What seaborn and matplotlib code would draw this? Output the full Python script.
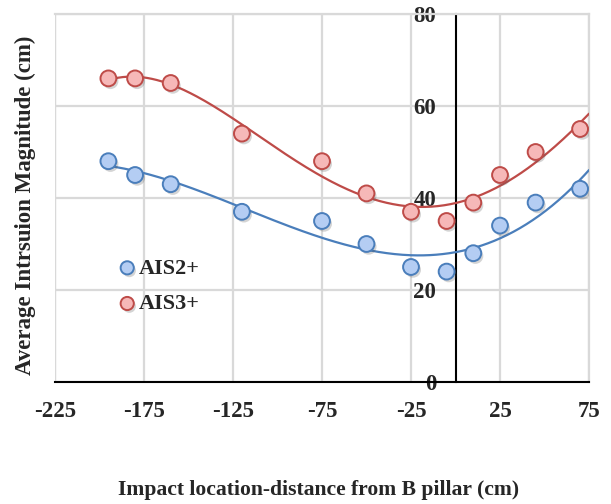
import numpy as np
import pandas as pd
import matplotlib
matplotlib.use("Agg")
import matplotlib.pyplot as plt
import matplotlib.patheffects as pe
import seaborn as sns

# Impact positions relative to the B pillar (cm)
distance = [-195, -180, -160, -120, -75, -50, -25, -5, 10, 25, 45, 70]
# Average intrusion magnitude (cm) per injury level
ais2 = [48, 45, 43, 37, 35, 30, 25, 24, 28, 34, 39, 42]
ais3 = [66, 66, 65, 54, 48, 41, 37, 35, 39, 45, 50, 55]
series = ["AIS2+", "AIS3+"]
x_ticks = [-225, -175, -125, -75, -25, 25, 75]
y_ticks = [0, 20, 40, 60, 80]

df = pd.DataFrame({
    "distance": distance * 2,
    "intrusion": ais2 + ais3,
    "level": [series[0]] * len(distance) + [series[1]] * len(distance),
})

line_colors = {"AIS2+": "#4a7ebb", "AIS3+": "#be4b48"}
fill_colors = {"AIS2+": "#b4cdf3", "AIS3+": "#f6b8b8"}

sns.set_theme(style="white")
plt.rcParams["font.family"] = ["Liberation Serif", "DejaVu Serif"]
plt.rcParams["font.weight"] = "bold"

fig = plt.figure(figsize=(6.11, 5.04), dpi=100)
ax = fig.add_axes([55 / 611, 1 - 382 / 504, 534 / 611, 368 / 504])

# polynomial trend lines (order 4) over the full axis range
xs = np.linspace(-195, 75, 300)
trend_rows = []
for name, vals in zip(series, [ais2, ais3]):
    coef = np.polyfit(distance, vals, 4)
    trend_rows.append(pd.DataFrame({"distance": xs, "intrusion": np.polyval(coef, xs), "level": name}))
trend = pd.concat(trend_rows)
sns.lineplot(data=trend, x="distance", y="intrusion", hue="level",
             palette=line_colors, linewidth=1.6, legend=False, ax=ax, zorder=3)

for name in series:
    sub = df[df["level"] == name]
    sns.scatterplot(data=sub, x="distance", y="intrusion", s=130,
                    color=fill_colors[name], edgecolor=line_colors[name],
                    linewidth=1.4, label=name, ax=ax, zorder=4,
                    path_effects=[pe.SimplePatchShadow(offset=(1.5, -2), alpha=0.25, shadow_rgbFace="#555555"), pe.Normal()])

# axes frame: y axis crosses at x = 0, light grey border elsewhere
for side in ["top", "right"]:
    ax.spines[side].set_color("#d9d9d9")
    ax.spines[side].set_linewidth(1.6)
ax.spines["left"].set_position(("data", 0))
ax.spines["left"].set_color("black")
ax.spines["left"].set_linewidth(1.5)
ax.spines["bottom"].set_color("black")
ax.spines["bottom"].set_linewidth(1.5)
ax.axvline(-225, color="#d9d9d9", linewidth=1.6, zorder=0)

ax.set_xlim(-225, 75)
ax.set_ylim(0, 80)
ax.set_xticks(x_ticks)
ax.set_yticks(y_ticks)
ax.set_xticklabels([str(t) for t in x_ticks], fontsize=16.5, fontweight="bold")
ax.set_yticklabels([str(t) for t in y_ticks], fontsize=16.5, fontweight="bold")
ax.tick_params(axis="both", length=0)
ax.tick_params(axis="x", pad=14)
ax.tick_params(axis="y", pad=14)

ax.grid(True, color="#d9d9d9", linewidth=1.6, zorder=0)
ax.set_axisbelow(True)

ax.set_xlabel("")
ax.set_ylabel("")
fig.text(319 / 611, 1 - 490 / 504, "Impact location-distance from B pillar (cm)",
         ha="center", va="center", fontsize=15.6, fontweight="bold")
fig.text(25 / 611, 1 - 205 / 504, "Average Intrsuion Magnitude (cm)", rotation=90,
         ha="center", va="center", fontsize=16.5, fontweight="bold")

leg = ax.legend(loc="upper left", bbox_to_anchor=((105 - 55) / 534, (382 - 247) / 368),
                frameon=False, handletextpad=0.0, labelspacing=0.68, borderpad=0,
                handlelength=1.0, prop={"size": 16, "weight": "bold"})
for h in leg.legend_handles:
    h.set_sizes([90])

fig.savefig("out.png", dpi=100)
